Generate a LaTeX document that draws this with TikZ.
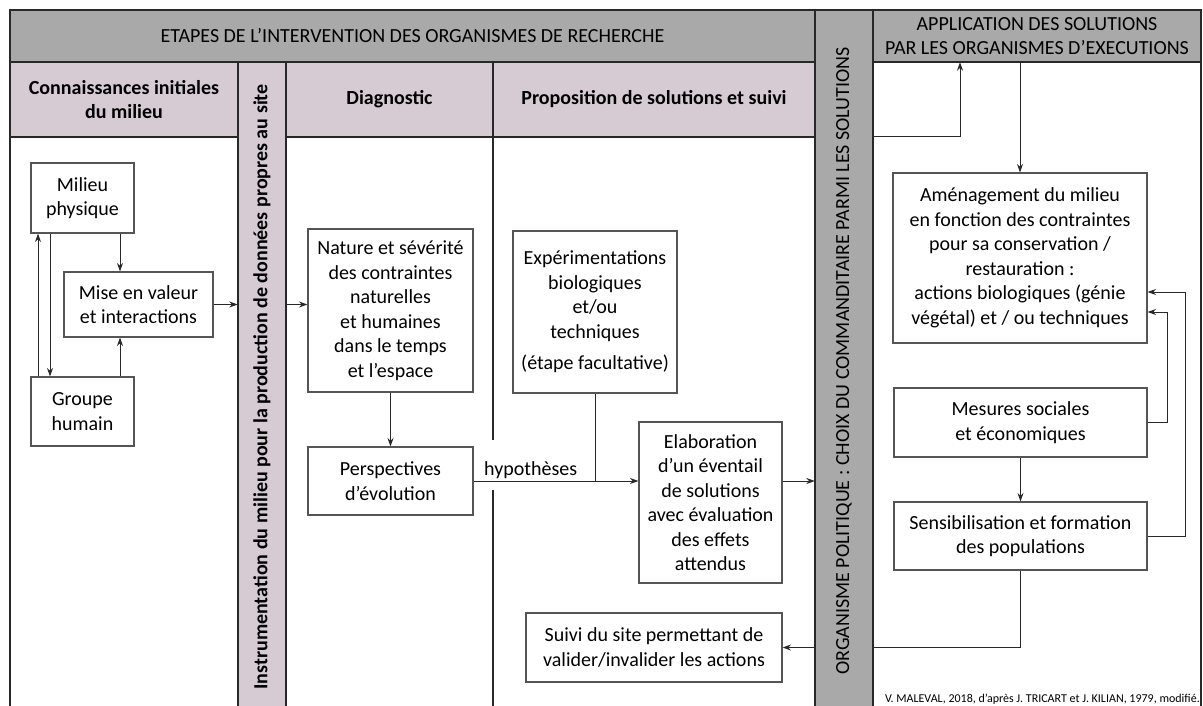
\documentclass[tikz,border=0pt]{standalone}
\usepackage{fontspec}
\setmainfont{Carlito}
\usetikzlibrary{arrows.meta}
\definecolor{hdgray}{RGB}{169,169,169}
\definecolor{lilac}{RGB}{214,203,210}
\definecolor{ink}{RGB}{40,40,40}
\definecolor{boxline}{RGB}{85,85,85}

\begin{document}
\begin{tikzpicture}[x=1pt, y=-1pt, font=\fontsize{20}{24.5}\selectfont, >={Stealth[length=8.5pt,width=6pt]},
        box/.style = {draw=boxline, line width=1.1pt, fill=white, align=center, inner sep=0pt},
        band/.style = {fill=hdgray, inner sep=0pt, align=center},
        subband/.style = {fill=lilac, inner sep=0pt, align=center, font=\fontsize{20}{24.5}\selectfont\bfseries},
        arr/.style = {->, draw=ink, line width=1pt},
        link/.style = {draw=ink, line width=1pt},
        wall/.style = {draw=ink, line width=2pt}]
                \fill[white] (0,0) rectangle (1203,706);
                \useasboundingbox (0,0) rectangle (1203,706);
                \node[band, minimum width=805, minimum height=52] (ttl) at (412.5,36) {ETAPES DE L’INTERVENTION DES ORGANISMES DE RECHERCHE};
                \node[band, minimum width=328, minimum height=52] (apl) at (1037,36) {APPLICATION DES SOLUTIONS\\PAR LES ORGANISMES D’EXECUTIONS};
                \node[subband, minimum width=228, minimum height=75] (h1) at (124,99.5) {Connaissances initiales\\du milieu};
                \node[subband, minimum width=207, minimum height=75] (h2) at (389.5,99.5) {Diagnostic};
                \node[subband, minimum width=322, minimum height=75] (h3) at (654,99.5) {Proposition de solutions et suivi};
                \node[subband, minimum width=48, minimum height=650] (ins) at (262,387) {\rotatebox{90}{Instrumentation du milieu pour la production de données propres au site}};
                \node[band, minimum width=58, minimum height=702] (org) at (844,361) {\rotatebox{90}{ORGANISME POLITIQUE : CHOIX DU COMMANDITAIRE PARMI LES SOLUTIONS}};
                \draw[wall, line width=2.6pt] (10,712) -- (10,10) -- (1201,10) -- (1201,712);
                \draw[wall] (ttl.south west) -- (ttl.south east) (apl.south west) -- (apl.south east);
                \draw[wall] (h1.south west) -- (h1.south east) (h2.south west) -- (h3.south east);
                \draw[wall] (ins.north west) -- (ins.south west) (ins.north east) -- (ins.south east);
                \draw[wall] (org.north west) -- (org.south west) (org.north east) -- (org.south east);
                \draw[wall] (h2.north east) -- ++(0,378) ++(0,50) -- (h2.north east |- ins.south);
                \node[box, minimum width=103, minimum height=70] (mp) at (82.5,198) {Milieu\\physique};
                \node[box, minimum width=149, minimum height=65] (mv) at (138.5,304.5) {Mise en valeur\\et interactions};
                \node[box, minimum width=103, minimum height=69] (gh) at (82.5,411.5) {Groupe\\humain};
                \node[box, minimum width=165, minimum height=163] (nat) at (390.5,310.5) {Nature et sévérité\\des contraintes\\naturelles\\et humaines\\dans le temps\\et l’espace};
                \node[box, minimum width=165, minimum height=68] (per) at (390.5,481) {Perspectives\\d’évolution};
                \node[box, minimum width=164, minimum height=162] (exp) at (595,312) {Expérimentations\\biologiques\\et/ou\\techniques\\[7pt](étape facultative)};
                \node[box, minimum width=143, minimum height=161] (ela) at (710.5,502.5) {Elaboration\\d’un éventail\\de solutions\\avec évaluation\\des effets\\attendus};
                \node[box, minimum width=256, minimum height=69] (sui) at (654,647.5) {Suivi du site permettant de\\valider/invalider les actions};
                \node[box, minimum width=254, minimum height=170] (ame) at (1020,258) {Aménagement du milieu\\en fonction des contraintes\\pour sa conservation /\\restauration :\\actions biologiques (génie\\végétal) et / ou techniques};
                \node[box, minimum width=253, minimum height=69] (mes) at (1020.5,422.5) {Mesures sociales\\et économiques};
                \node[box, minimum width=253, minimum height=68] (sen) at (1020.5,536) {Sensibilisation et formation\\des populations};
                \node[anchor=south west, inner sep=0pt] (hyp) at (484,479) {hypothèses};
                \node[anchor=south east, inner sep=1pt, font=\fontsize{12}{14}\selectfont] (src) at (1201,706) {V. MALEVAL, 2018, d’après J. TRICART et J. KILIAN, 1979, modifié.};
                \coordinate (xa) at (38,0);
                \coordinate (xb) at (50,0);
                \coordinate (xc) at (120,0);
                \coordinate (k1) at (960,137);
                \coordinate (k2) at (1167,312);
                \coordinate (k3) at (1185,292);
                \draw[arr] (gh.north -| xa) -- (mp.south -| xa);
                \draw[arr] (mp.south -| xb) -- (gh.north -| xb);
                \draw[arr] (mp.south -| xc) -- (mv.north -| xc);
                \draw[arr] (gh.north -| xc) -- (mv.south -| xc);
                \draw[arr] (mv.east) -- (mv.east -| ins.west);
                \draw[arr] (mv.east -| ins.east) -- (mv.east -| nat.west);
                \draw[arr] (nat.south) -- (per.north);
                \draw[arr] (per.east) -- (per.east -| ela.west);
                \draw[link] (exp.south) -- (exp.south |- per.east);
                \draw[arr] (per.east -| ela.east) -- (per.east -| org.west);
                \draw[arr] (k1 -| org.east) -- (k1) -- (k1 |- apl.south);
                \draw[arr] (apl.south -| ame.north) -- (ame.north);
                \draw[arr] (mes.south) -- (sen.north);
                \draw[arr] (mes.east) -- (mes.east -| k2) -- (k2) -- (k2 -| ame.east);
                \draw[arr] (sen.east) -- (sen.east -| k3) -- (k3) -- (k3 -| ame.east);
                \draw[link] (sen.south) -- (sen.south |- sui.east) -- (sui.east -| org.east);
                \draw[arr] (sui.east -| org.west) -- (sui.east);
            \end{tikzpicture}
\end{document}
